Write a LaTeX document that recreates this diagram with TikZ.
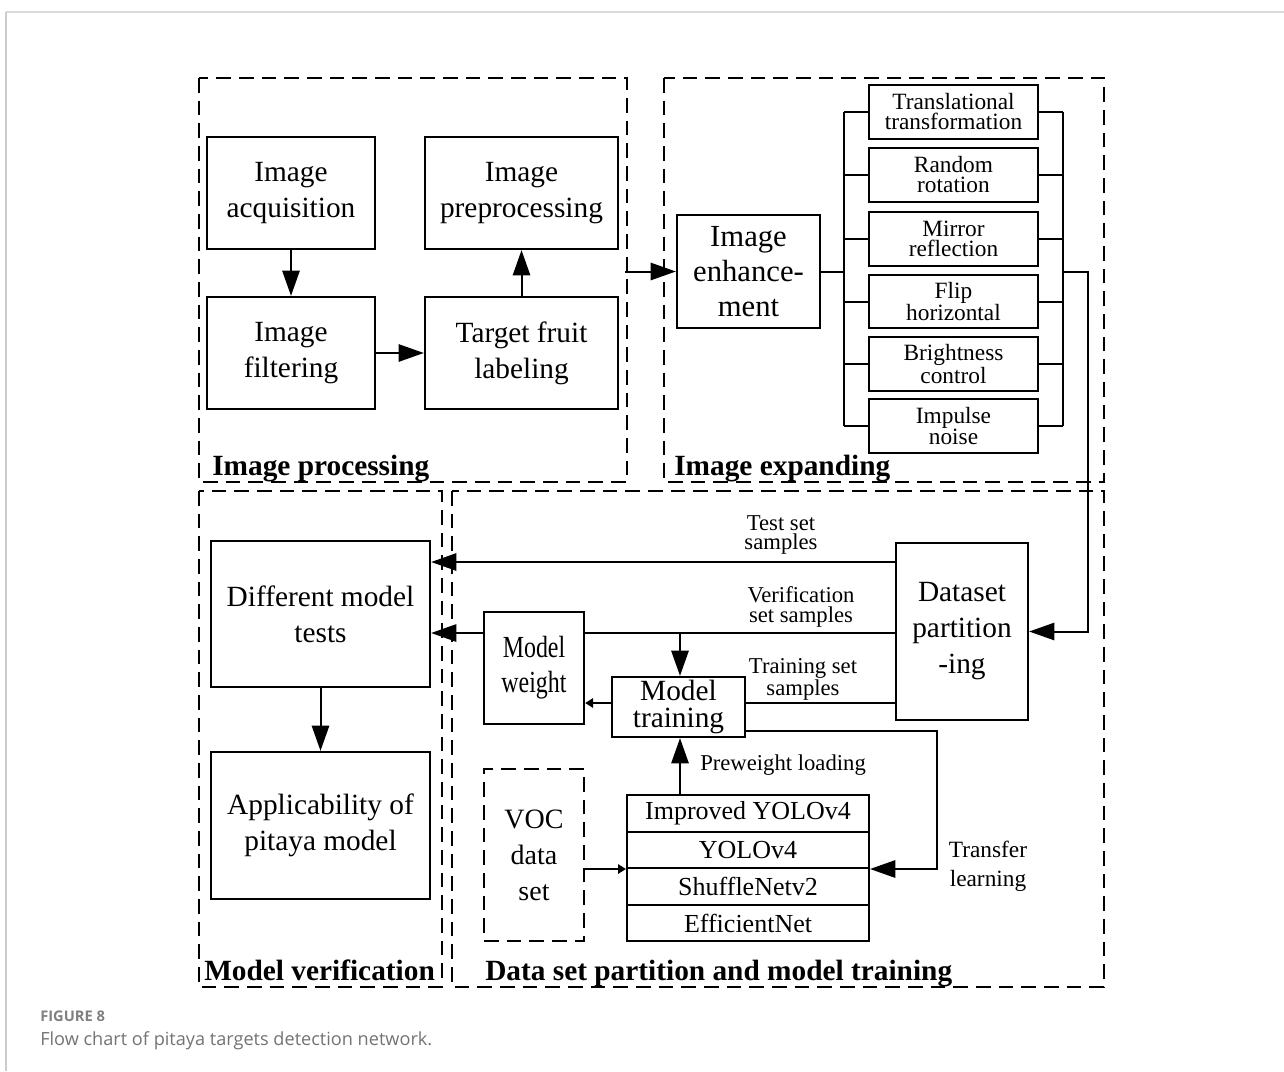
\documentclass[tikz,border=0pt]{standalone}
\usepackage{fontspec}
\setmainfont{Liberation Serif}
\newfontfamily\capfont{Open Sans}
\usetikzlibrary{arrows.meta}
\newcommand{\mybox}[7]{\node[#6, minimum width={(#4-#2)*0.75pt}, minimum height={(#5-#3)*0.75pt}] (#1) at ({(#2+#4)/2},{(#3+#5)/2}) {#7};}
\begin{document}
\begin{tikzpicture}[x=0.75pt,y=-0.75pt,
  box/.style={draw, line width=1.7pt, inner sep=0pt, align=center, font=\fontsize{22}{27}\selectfont},
  sbox/.style={box, line width=1.5pt, font=\fontsize{17.5}{15}\selectfont},
  stk/.style={box, line width=1.5pt, font=\fontsize{19.5}{22}\selectfont},
  region/.style={draw, line width=1.4pt, dash pattern=on 11pt off 6pt},
  conn/.style={line width=1.5pt},
  arr/.style={conn, -{Triangle[length=19pt,width=13pt]}},
  sarr/.style={conn, -{Triangle[length=6pt,width=7pt]}},
  lbl/.style={align=center, inner sep=0pt, font=\fontsize{17}{14.5}\selectfont},
  ttl/.style={anchor=base west, inner sep=0pt, font=\fontsize{22}{26}\selectfont\bfseries}]
\useasboundingbox (0,0) rectangle (1284,1071);
% page frame
\draw[line width=2pt, black!15] (6,12) -- (1284,12);
\draw[line width=1pt, black!20] (6,12) -- (6,1071);
% regions
\draw[region] (199,78) rectangle (627,482);
\draw[region] (664,78) rectangle (1104,482);
\draw[region] (199,491) rectangle (442,987);
\draw[region] (452,491) rectangle (1104,987);
\node[ttl] (tip) at (212,475) {Image processing};
\node[ttl] (tie) at (674,475) {Image expanding};
\node[ttl] (tmv) at (204,980) {Model verification};
\node[ttl] (tdt) at (485,980) {Data set partition and model training};
% image processing
\mybox{acq}{207}{137}{375}{249}{box}{Image\\acquisition}
\mybox{filt}{207}{297}{375}{409}{box}{Image\\filtering}
\mybox{pre}{425}{137}{618}{249}{box}{Image\\preprocessing}
\mybox{lab}{425}{297}{618}{409}{box}{Target fruit\\labeling}
\draw[arr] (acq) -- (filt);
\draw[arr] (filt) -- (lab);
\draw[arr] (lab) -- (pre);
% image expanding
\mybox{enh}{677}{215}{820}{328}{box, font=\fontsize{23}{26}\selectfont}{Image\\enhance-\\ment}
\mybox{t1}{869}{85}{1038}{139}{sbox}{Translational\\transformation}
\mybox{t2}{869}{148}{1038}{202}{sbox}{Random\\rotation}
\mybox{t3}{869}{212}{1038}{266}{sbox}{Mirror\\reflection}
\mybox{t4}{869}{275}{1038}{328}{sbox}{Flip\\horizontal}
\mybox{t5}{869}{337}{1038}{391}{sbox}{Brightness\\control}
\mybox{t6}{869}{399}{1038}{453}{sbox}{Impulse\\noise}
\coordinate (ipout) at (625,271.5);
\draw[arr] (ipout) -- (enh.west);
\coordinate (lb) at (844,271.5);
\coordinate (rb) at (1063,271.5);
\draw[conn] (enh.east) -- (lb);
\draw[conn] (lb |- t1.west) -- (lb |- t6.west);
\draw[conn] (rb |- t1.east) -- (rb |- t6.east);
\foreach \t in {t1,t2,t3,t4,t5,t6}{
  \draw[conn] (lb |- \t.west) -- (\t.west);
  \draw[conn] (\t.east) -- (rb |- \t.east);
}
% verification
\mybox{dmt}{211}{541}{430}{687}{box}{Different model\\tests}
\mybox{app}{211}{752}{430}{899}{box}{Applicability of\\pitaya model}
\draw[arr] (dmt) -- (app);
% data set partition
\mybox{dsp}{896}{543}{1028}{720}{box}{Dataset\\partition\\-ing}
\coordinate (rd) at (1088,271.5);
\draw[arr] (rb) -- (rd) -- (rd |- dsp.east) -- (dsp.east);
\mybox{mw}{484}{612}{584}{724}{box}{\scalebox{0.78}[1]{\fontsize{23}{26}\selectfont\begin{tabular}{@{}c@{}}Model\\weight\end{tabular}}}
\mybox{mt}{612}{677}{745}{737}{box, font=\fontsize{22}{20}\selectfont}{Model\\training}
\mybox{s1}{627}{795}{869}{832}{stk}{Improved YOLOv4}
\mybox{s2}{627}{832}{869}{868}{stk}{YOLOv4}
\mybox{s3}{627}{868}{869}{905}{stk}{ShuffleNetv2}
\mybox{s4}{627}{905}{869}{941}{stk}{EfficientNet}
\mybox{voc}{484}{769}{584}{941}{box, line width=1.4pt, dash pattern=on 11pt off 6pt, font=\fontsize{21}{27}\selectfont}{VOC\\data\\set}
\coordinate (ty) at (0,562);
\coordinate (vy) at (0,633);
\coordinate (ry) at (0,703);
\coordinate (vb) at (680,633);
\coordinate (pw) at (680,795);
\coordinate (tl) at (937,731);
\draw[arr] (dsp.west |- ty) -- (dmt.east |- ty);
\draw[conn] (dsp.west |- vy) -- (mw.east |- vy);
\draw[arr] (mw.west |- vy) -- (dmt.east |- vy);
\draw[arr] (vb) -- (vb |- mt.north);
\draw[conn] (dsp.west |- ry) -- (mt.east |- ry);
\draw[sarr] (mt.west |- ry) -- (mw.east |- ry);
\draw[arr] (mt.east |- tl) -- (tl) -- (tl |- s2.south east) -- (s2.south east);
\draw[arr] (pw) -- (pw |- mt.south);
\draw[sarr] (voc.east |- s2.south west) -- (s2.south west);
\node[lbl] (lts) at (781,535) {Test set\\samples};
\node[lbl] (lvs) at (801,607) {Verification\\set samples};
\node[lbl] (lrs) at (803,679) {Training set\\samples};
\node[lbl, anchor=west] (lpw) at (700,765) {Preweight loading};
\node[lbl, font=\fontsize{17.5}{22}\selectfont] (ltl) at (988,866) {Transfer\\learning};
% caption
\node[anchor=base west, inner sep=0pt, font=\capfont\bfseries\fontsize{11}{12}\selectfont, text=black!50] (fig) at (40,1021) {FIGURE 8};
\node[anchor=base west, inner sep=0pt, font=\capfont\fontsize{13.6}{15}\selectfont, text=black!55] (cap) at (40,1045) {Flow chart of pitaya targets detection network.};
\end{tikzpicture}
\end{document}
